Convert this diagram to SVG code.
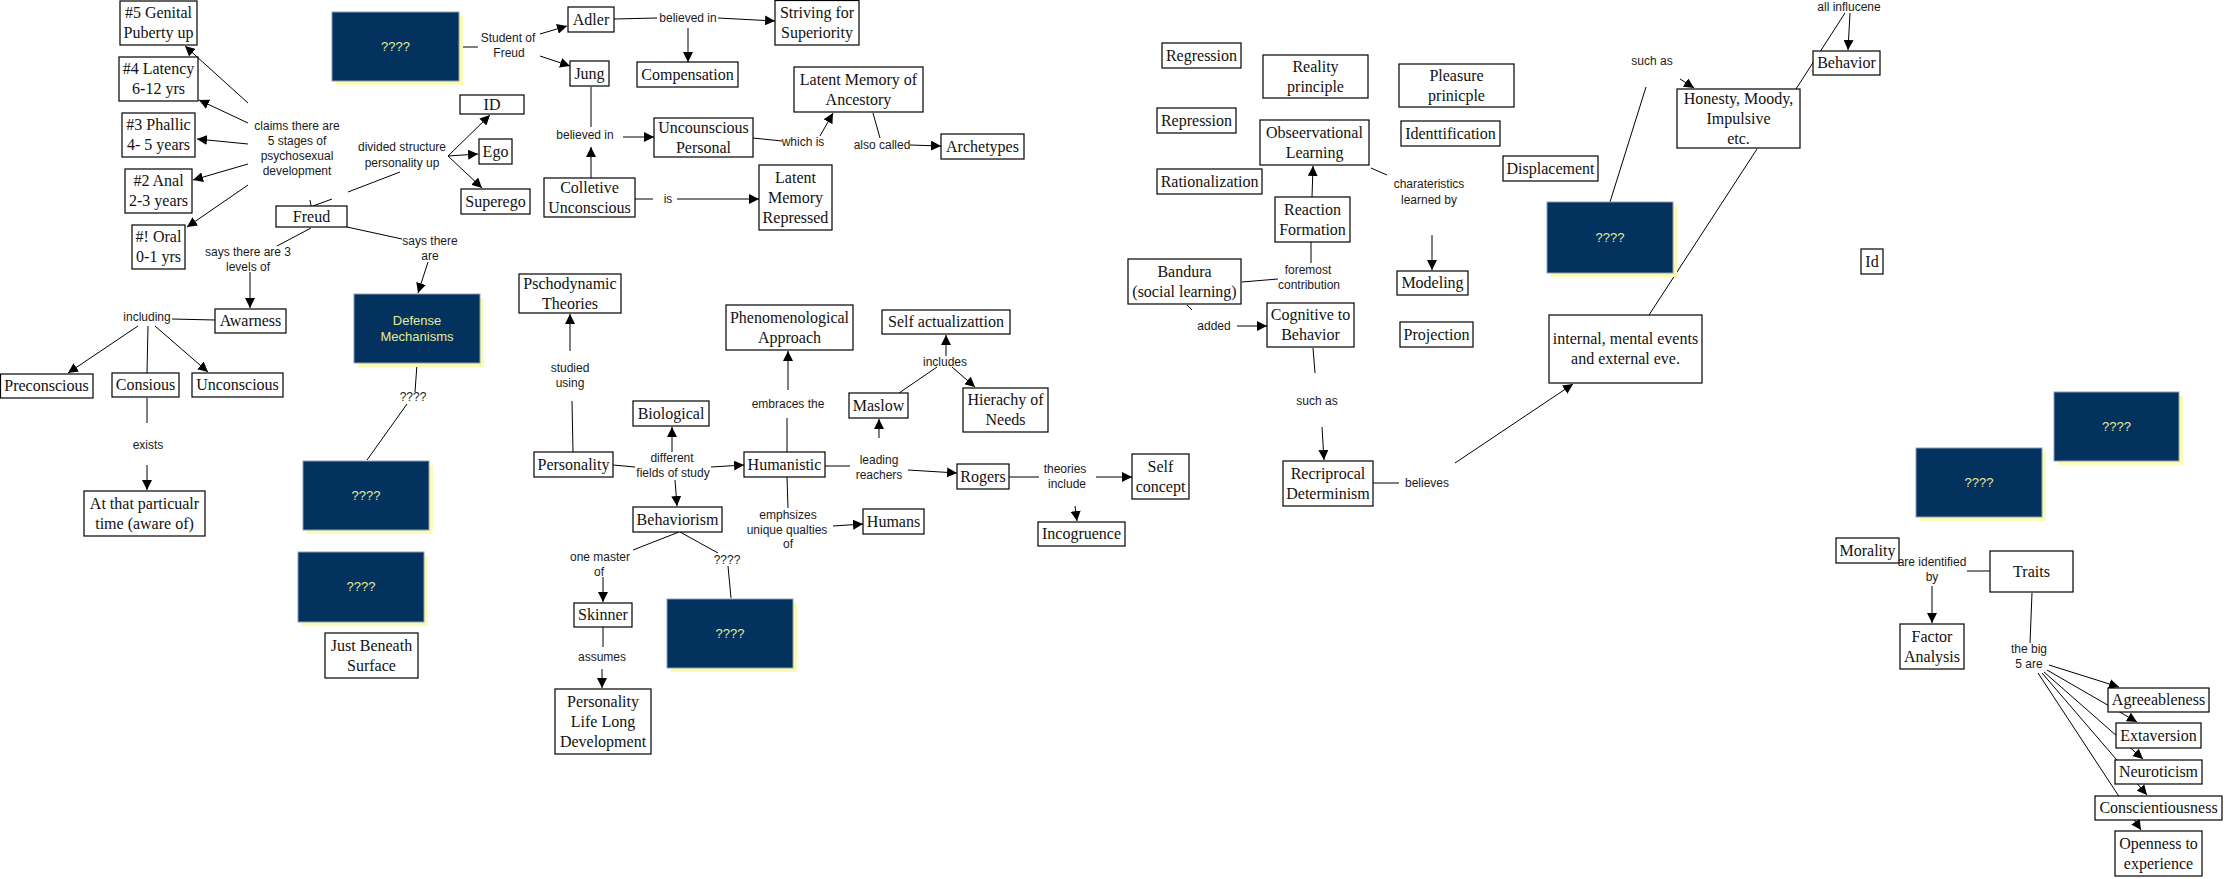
<svg xmlns="http://www.w3.org/2000/svg" width="2224" height="879" viewBox="0 0 2224 879">
<style>
.n rect{fill:#fff;stroke:#000;stroke-width:1.2}
.n text{font-family:"Liberation Serif","Times New Roman",serif;font-size:16px;text-anchor:middle;fill:#111}
.d .sh{fill:#fbfbb4}
.d .bg{fill:#04325f;stroke:#8c9db5;stroke-width:1}
.d text{font-family:"Liberation Sans",Arial,sans-serif;font-size:13px;text-anchor:middle;fill:#e4ec94}
.lb text{font-family:"Liberation Sans",Arial,sans-serif;font-size:12px;text-anchor:middle;fill:#1a1a1a}
#connectors line{stroke:#000;stroke-width:1;fill:none}
#connectors line.a{marker-end:url(#arr)}
</style>
<defs>
<marker id="arr" viewBox="0 0 10 10" refX="10" refY="5" markerWidth="10" markerHeight="10" orient="auto" markerUnits="userSpaceOnUse"><path d="M0,0 L10,5 L0,10 z" fill="#000"/></marker>
</defs>
<rect width="2224" height="879" fill="#fff"/>
<g id="connectors">
<line class="a" x1="248" y1="103" x2="185" y2="46"/>
<line class="a" x1="248" y1="123" x2="199" y2="100"/>
<line class="a" x1="248" y1="144" x2="197" y2="139"/>
<line class="a" x1="248" y1="164" x2="193" y2="180"/>
<line class="a" x1="248" y1="185" x2="187" y2="227"/>
<line x1="310" y1="200" x2="311" y2="206"/>
<line x1="313" y1="206" x2="332" y2="199"/>
<line x1="348" y1="192" x2="400" y2="172"/>
<line class="a" x1="448" y1="156" x2="490" y2="115"/>
<line class="a" x1="448" y1="156" x2="478" y2="154"/>
<line class="a" x1="448" y1="156" x2="482" y2="188"/>
<line x1="311" y1="228" x2="277" y2="246"/>
<line class="a" x1="250" y1="272" x2="250" y2="308"/>
<line x1="347" y1="227" x2="402" y2="239"/>
<line class="a" x1="428" y1="262" x2="418" y2="293"/>
<line x1="172" y1="319" x2="215" y2="320"/>
<line class="a" x1="138" y1="326" x2="68" y2="373"/>
<line x1="148" y1="326" x2="147" y2="373"/>
<line class="a" x1="155" y1="326" x2="208" y2="372"/>
<line x1="147" y1="398" x2="147" y2="423"/>
<line class="a" x1="147" y1="465" x2="147" y2="490"/>
<line x1="417" y1="364" x2="415" y2="392"/>
<line x1="407" y1="404" x2="367" y2="460"/>
<line x1="463" y1="47" x2="478" y2="47"/>
<line class="a" x1="540" y1="34" x2="567" y2="26"/>
<line class="a" x1="540" y1="56" x2="570" y2="66"/>
<line x1="614" y1="19" x2="657" y2="18"/>
<line class="a" x1="718" y1="18" x2="775" y2="21"/>
<line class="a" x1="688" y1="28" x2="688" y2="62"/>
<line x1="591" y1="87" x2="591" y2="127"/>
<line class="a" x1="623" y1="137" x2="654" y2="137"/>
<line class="a" x1="591" y1="178" x2="591" y2="147"/>
<line x1="635" y1="199" x2="653" y2="199"/>
<line class="a" x1="677" y1="199" x2="759" y2="199"/>
<line x1="753" y1="138" x2="782" y2="141"/>
<line class="a" x1="820" y1="136" x2="833" y2="113"/>
<line x1="873" y1="113" x2="880" y2="138"/>
<line class="a" x1="910" y1="145" x2="941" y2="146"/>
<line class="a" x1="570" y1="351" x2="570" y2="314"/>
<line x1="572" y1="401" x2="573" y2="452"/>
<line x1="613" y1="465" x2="635" y2="467"/>
<line class="a" x1="672" y1="452" x2="672" y2="427"/>
<line class="a" x1="675" y1="480" x2="677" y2="506"/>
<line class="a" x1="711" y1="467" x2="744" y2="465"/>
<line x1="787" y1="452" x2="787" y2="418"/>
<line class="a" x1="788" y1="390" x2="788" y2="351"/>
<line x1="825" y1="466" x2="850" y2="466"/>
<line class="a" x1="879" y1="438" x2="879" y2="419"/>
<line class="a" x1="908" y1="470" x2="957" y2="473"/>
<line x1="899" y1="393" x2="937" y2="367"/>
<line class="a" x1="946" y1="356" x2="946" y2="335"/>
<line class="a" x1="952" y1="367" x2="975" y2="387"/>
<line x1="787" y1="477" x2="788" y2="508"/>
<line class="a" x1="833" y1="526" x2="863" y2="524"/>
<line x1="679" y1="532" x2="633" y2="550"/>
<line class="a" x1="603" y1="577" x2="603" y2="602"/>
<line x1="680" y1="532" x2="718" y2="553"/>
<line x1="728" y1="566" x2="731" y2="598"/>
<line x1="603" y1="627" x2="603" y2="647"/>
<line class="a" x1="602" y1="669" x2="602" y2="688"/>
<line x1="1009" y1="477" x2="1039" y2="477"/>
<line class="a" x1="1096" y1="477" x2="1132" y2="477"/>
<line class="a" x1="1075" y1="506" x2="1077" y2="521"/>
<line x1="1242" y1="282" x2="1278" y2="279"/>
<line x1="1311" y1="263" x2="1311" y2="242"/>
<line x1="1187" y1="305" x2="1192" y2="310"/>
<line class="a" x1="1237" y1="326" x2="1267" y2="326"/>
<line class="a" x1="1312" y1="197" x2="1313" y2="166"/>
<line x1="1313" y1="348" x2="1315" y2="373"/>
<line class="a" x1="1322" y1="427" x2="1324" y2="460"/>
<line x1="1371" y1="168" x2="1387" y2="175"/>
<line class="a" x1="1432" y1="235" x2="1432" y2="270"/>
<line x1="1373" y1="483" x2="1399" y2="483"/>
<line class="a" x1="1455" y1="463" x2="1573" y2="384"/>
<line x1="1610" y1="202" x2="1646" y2="87"/>
<line class="a" x1="1680" y1="79" x2="1694" y2="88"/>
<line x1="1757" y1="149" x2="1649" y2="315"/>
<line x1="1796" y1="89" x2="1845" y2="13"/>
<line class="a" x1="1850" y1="13" x2="1848" y2="50"/>
<line x1="1990" y1="571" x2="1967" y2="571"/>
<line class="a" x1="1932" y1="586" x2="1932" y2="623"/>
<line x1="2032" y1="593" x2="2030" y2="643"/>
<line class="a" x1="2049" y1="665" x2="2119" y2="687"/>
<line class="a" x1="2047" y1="670" x2="2137" y2="722"/>
<line class="a" x1="2044" y1="672" x2="2143" y2="759"/>
<line class="a" x1="2042" y1="673" x2="2147" y2="795"/>
<line class="a" x1="2038" y1="673" x2="2141" y2="830"/>
</g>
<g id="labels" class="lb">
<text x="297" y="130">claims there are</text><text x="297" y="145">5 stages of</text><text x="297" y="160">psychosexual</text><text x="297" y="175">development</text>
<text x="402" y="151">divided structure</text><text x="402" y="167">personality up</text>
<text x="248" y="256">says there are 3</text><text x="248" y="271">levels of</text>
<text x="430" y="245">says there</text><text x="430" y="260">are</text>
<text x="147" y="321">including</text>
<text x="148" y="449">exists</text>
<text x="413" y="401">????</text>
<text x="508" y="42">Student of</text><text x="509" y="57">Freud</text>
<text x="688" y="22">believed in</text>
<text x="585" y="139">believed in</text>
<text x="668" y="203">is</text>
<text x="803" y="146">which is</text>
<text x="882" y="149">also called</text>
<text x="570" y="372">studied</text><text x="570" y="387">using</text>
<text x="672" y="462">different</text><text x="673" y="477">fields of study</text>
<text x="788" y="408">embraces the</text>
<text x="879" y="464">leading</text><text x="879" y="479">reachers</text>
<text x="945" y="366">includes</text>
<text x="788" y="519">emphsizes</text><text x="787" y="534">unique qualties</text><text x="788" y="548">of</text>
<text x="600" y="561">one master</text><text x="599" y="576">of</text>
<text x="727" y="564">????</text>
<text x="602" y="661">assumes</text>
<text x="1065" y="473">theories</text><text x="1067" y="488">include</text>
<text x="1308" y="274">foremost</text><text x="1309" y="289">contribution</text>
<text x="1214" y="330">added</text>
<text x="1317" y="405">such as</text>
<text x="1429" y="188">charateristics</text><text x="1429" y="204">learned by</text>
<text x="1427" y="487">believes</text>
<text x="1652" y="65">such as</text>
<text x="1849" y="11">all influcene</text>
<text x="1932" y="566">are identified</text><text x="1932" y="581">by</text>
<text x="2029" y="653">the big</text><text x="2029" y="668">5 are</text>
</g>
<g id="q1" class="d"><rect class="sh" x="336" y="16" width="127" height="69"/><rect class="bg" x="332" y="12" width="127" height="69"/><text x="395.5" y="51">????</text></g>
<g id="defense" class="d"><rect class="sh" x="358" y="298" width="126" height="69"/><rect class="bg" x="354" y="294" width="126" height="69"/><text x="417" y="325" font-size="14">Defense</text><text x="417" y="341" font-size="14">Mechanisms</text></g>
<g id="q2" class="d"><rect class="sh" x="307" y="465" width="126" height="69"/><rect class="bg" x="303" y="461" width="126" height="69"/><text x="366" y="500">????</text></g>
<g id="q3" class="d"><rect class="sh" x="302" y="556" width="126" height="70"/><rect class="bg" x="298" y="552" width="126" height="70"/><text x="361" y="591">????</text></g>
<g id="q4" class="d"><rect class="sh" x="671" y="603" width="126" height="69"/><rect class="bg" x="667" y="599" width="126" height="69"/><text x="730" y="638">????</text></g>
<g id="q5" class="d"><rect class="sh" x="1551" y="206" width="126" height="71"/><rect class="bg" x="1547" y="202" width="126" height="71"/><text x="1610" y="242">????</text></g>
<g id="q6" class="d"><rect class="sh" x="2058" y="396" width="125" height="69"/><rect class="bg" x="2054" y="392" width="125" height="69"/><text x="2116.5" y="431">????</text></g>
<g id="q7" class="d"><rect class="sh" x="1920" y="452" width="126" height="69"/><rect class="bg" x="1916" y="448" width="126" height="69"/><text x="1979" y="487">????</text></g>
<g id="genital" class="n"><rect x="120" y="1" width="77" height="44"/><text x="158.5" y="18">#5 Genital</text><text x="158.5" y="38">Puberty up</text></g>
<g id="latency" class="n"><rect x="119" y="57" width="79" height="44"/><text x="158.5" y="74">#4 Latency</text><text x="158.5" y="94">6-12 yrs</text></g>
<g id="phallic" class="n"><rect x="122" y="113" width="73" height="44"/><text x="158.5" y="130">#3 Phallic</text><text x="158.5" y="150">4- 5 years</text></g>
<g id="anal" class="n"><rect x="125" y="169" width="67" height="44"/><text x="158.5" y="186">#2 Anal</text><text x="158.5" y="206">2-3 years</text></g>
<g id="oral" class="n"><rect x="132" y="225" width="53" height="44"/><text x="158.5" y="242">#! Oral</text><text x="158.5" y="262">0-1 yrs</text></g>
<g id="freud" class="n"><rect x="276" y="206" width="71" height="21"/><text x="311.5" y="222">Freud</text></g>
<g id="awarness" class="n"><rect x="215" y="309" width="71" height="24"/><text x="250.5" y="326">Awarness</text></g>
<g id="preconscious" class="n"><rect x="0.5" y="374" width="92.5" height="24"/><text x="46.5" y="391">Preconscious</text></g>
<g id="consious" class="n"><rect x="112" y="373" width="67" height="24"/><text x="145.5" y="390">Consious</text></g>
<g id="unconscious" class="n"><rect x="192" y="373" width="91" height="24"/><text x="237.5" y="390">Unconscious</text></g>
<g id="atthat" class="n"><rect x="84" y="491" width="121" height="45"/><text x="144.5" y="508.5">At that particualr</text><text x="144.5" y="528.5">time (aware of)</text></g>
<g id="justbeneath" class="n"><rect x="325" y="633" width="93" height="45"/><text x="371.5" y="650.5">Just Beneath</text><text x="371.5" y="670.5">Surface</text></g>
<g id="id" class="n"><rect x="460" y="95" width="64" height="19"/><text x="492" y="110">ID</text></g>
<g id="ego" class="n"><rect x="479" y="139" width="33" height="25"/><text x="495.5" y="157">Ego</text></g>
<g id="superego" class="n"><rect x="461" y="189" width="69" height="25"/><text x="495.5" y="207">Superego</text></g>
<g id="adler" class="n"><rect x="568" y="7" width="46" height="25"/><text x="591" y="25">Adler</text></g>
<g id="jung" class="n"><rect x="570" y="61" width="39" height="25"/><text x="589.5" y="79">Jung</text></g>
<g id="colletive" class="n"><rect x="544" y="178" width="91" height="39"/><text x="589.5" y="192.5">Colletive</text><text x="589.5" y="212.5">Unconscious</text></g>
<g id="striving" class="n"><rect x="775" y="0.5" width="84" height="44.5"/><text x="817" y="17.5">Striving for</text><text x="817" y="37.5">Superiority</text></g>
<g id="compensation" class="n"><rect x="637" y="62" width="101" height="25"/><text x="687.5" y="80">Compensation</text></g>
<g id="latentanc" class="n"><rect x="794" y="67" width="129" height="45"/><text x="858.5" y="84.5">Latent Memory of</text><text x="858.5" y="104.5">Ancestory</text></g>
<g id="uncounscious" class="n"><rect x="654" y="118" width="99" height="39"/><text x="703.5" y="132.5">Uncounscious</text><text x="703.5" y="152.5">Personal</text></g>
<g id="latentrep" class="n"><rect x="759" y="165" width="73" height="65"/><text x="795.5" y="182.5">Latent</text><text x="795.5" y="202.5">Memory</text><text x="795.5" y="222.5">Repressed</text></g>
<g id="archetypes" class="n"><rect x="941" y="134" width="83" height="25"/><text x="982.5" y="152">Archetypes</text></g>
<g id="pschodynamic" class="n"><rect x="519" y="274" width="102" height="39"/><text x="570" y="288.5">Pschodynamic</text><text x="570" y="308.5">Theories</text></g>
<g id="personality" class="n"><rect x="534" y="452" width="79" height="25"/><text x="573.5" y="470">Personality</text></g>
<g id="biological" class="n"><rect x="633" y="401" width="76" height="25"/><text x="671" y="419">Biological</text></g>
<g id="behaviorism" class="n"><rect x="633" y="507" width="89" height="25"/><text x="677.5" y="525">Behaviorism</text></g>
<g id="humanistic" class="n"><rect x="744" y="452" width="81" height="25"/><text x="784.5" y="470">Humanistic</text></g>
<g id="phenomenological" class="n"><rect x="726" y="305" width="127" height="45"/><text x="789.5" y="322.5">Phenomenological</text><text x="789.5" y="342.5">Approach</text></g>
<g id="selfact" class="n"><rect x="882" y="310" width="128" height="24"/><text x="946" y="327">Self actualizattion</text></g>
<g id="maslow" class="n"><rect x="849" y="393" width="59" height="25"/><text x="878.5" y="411">Maslow</text></g>
<g id="hierachy" class="n"><rect x="963" y="388" width="85" height="44"/><text x="1005.5" y="405">Hierachy of</text><text x="1005.5" y="425">Needs</text></g>
<g id="rogers" class="n"><rect x="957" y="464" width="52" height="25"/><text x="983" y="482">Rogers</text></g>
<g id="selfconcept" class="n"><rect x="1132" y="454" width="57" height="45"/><text x="1160.5" y="471.5">Self</text><text x="1160.5" y="491.5">concept</text></g>
<g id="incogruence" class="n"><rect x="1038" y="522" width="87" height="24"/><text x="1081.5" y="539">Incogruence</text></g>
<g id="humans" class="n"><rect x="863" y="509" width="61" height="25"/><text x="893.5" y="527">Humans</text></g>
<g id="skinner" class="n"><rect x="574" y="603" width="58" height="24"/><text x="603" y="620">Skinner</text></g>
<g id="lifelong" class="n"><rect x="555" y="689" width="96" height="65"/><text x="603" y="706.5">Personality</text><text x="603" y="726.5">Life Long</text><text x="603" y="746.5">Development</text></g>
<g id="regression" class="n"><rect x="1162" y="43" width="79" height="25"/><text x="1201.5" y="61">Regression</text></g>
<g id="reality" class="n"><rect x="1263" y="55" width="105" height="43"/><text x="1315.5" y="71.5">Reality</text><text x="1315.5" y="91.5">principle</text></g>
<g id="pleasure" class="n"><rect x="1399" y="64" width="115" height="43"/><text x="1456.5" y="80.5">Pleasure</text><text x="1456.5" y="100.5">prinicple</text></g>
<g id="repression" class="n"><rect x="1157" y="108" width="79" height="25"/><text x="1196.5" y="126">Repression</text></g>
<g id="obseervational" class="n"><rect x="1260" y="120" width="109" height="45"/><text x="1314.5" y="137.5">Obseervational</text><text x="1314.5" y="157.5">Learning</text></g>
<g id="identification" class="n"><rect x="1401" y="121" width="99" height="25"/><text x="1450.5" y="139">Identtification</text></g>
<g id="displacement" class="n"><rect x="1503" y="156" width="95" height="25"/><text x="1550.5" y="174">Displacement</text></g>
<g id="rationalization" class="n"><rect x="1157" y="169" width="105" height="25"/><text x="1209.5" y="187">Rationalization</text></g>
<g id="reaction" class="n"><rect x="1275" y="197" width="75" height="45"/><text x="1312.5" y="214.5">Reaction</text><text x="1312.5" y="234.5">Formation</text></g>
<g id="bandura" class="n"><rect x="1128" y="259" width="113" height="45"/><text x="1184.5" y="276.5">Bandura</text><text x="1184.5" y="296.5">(social learning)</text></g>
<g id="cognitive" class="n"><rect x="1267" y="303" width="87" height="44"/><text x="1310.5" y="320">Cognitive to</text><text x="1310.5" y="340">Behavior</text></g>
<g id="modeling" class="n"><rect x="1397" y="271" width="71" height="24"/><text x="1432.5" y="288">Modeling</text></g>
<g id="projection" class="n"><rect x="1400" y="322" width="73" height="25"/><text x="1436.5" y="340">Projection</text></g>
<g id="recriprocal" class="n"><rect x="1283" y="461" width="90" height="45"/><text x="1328" y="478.5">Recriprocal</text><text x="1328" y="498.5">Determinism</text></g>
<g id="honesty" class="n"><rect x="1677" y="89" width="123" height="59"/><text x="1738.5" y="103.5">Honesty, Moody,</text><text x="1738.5" y="123.5">Impulsive</text><text x="1738.5" y="143.5">etc.</text></g>
<g id="behavior" class="n"><rect x="1813" y="51" width="67" height="24"/><text x="1846.5" y="68">Behavior</text></g>
<g id="internal" class="n"><rect x="1549" y="315" width="153" height="68"/><text x="1625.5" y="344">internal, mental events</text><text x="1625.5" y="364">and external eve.</text></g>
<g id="id2" class="n"><rect x="1861" y="249" width="22" height="25"/><text x="1872" y="267">Id</text></g>
<g id="morality" class="n"><rect x="1836" y="538" width="63" height="25"/><text x="1867.5" y="556">Morality</text></g>
<g id="traits" class="n"><rect x="1990" y="551" width="83" height="41"/><text x="2031.5" y="577">Traits</text></g>
<g id="factor" class="n"><rect x="1900" y="624" width="64" height="45"/><text x="1932" y="641.5">Factor</text><text x="1932" y="661.5">Analysis</text></g>
<g id="agreeableness" class="n"><rect x="2108" y="688" width="101" height="24"/><text x="2158.5" y="705">Agreeableness</text></g>
<g id="extaversion" class="n"><rect x="2116" y="723" width="85" height="25"/><text x="2158.5" y="741">Extaversion</text></g>
<g id="neuroticism" class="n"><rect x="2115" y="760" width="87" height="24"/><text x="2158.5" y="777">Neuroticism</text></g>
<g id="conscientiousness" class="n"><rect x="2095" y="796" width="127" height="24"/><text x="2158.5" y="813">Conscientiousness</text></g>
<g id="openness" class="n"><rect x="2115" y="831" width="87" height="45"/><text x="2158.5" y="848.5">Openness to</text><text x="2158.5" y="868.5">experience</text></g>
</svg>
